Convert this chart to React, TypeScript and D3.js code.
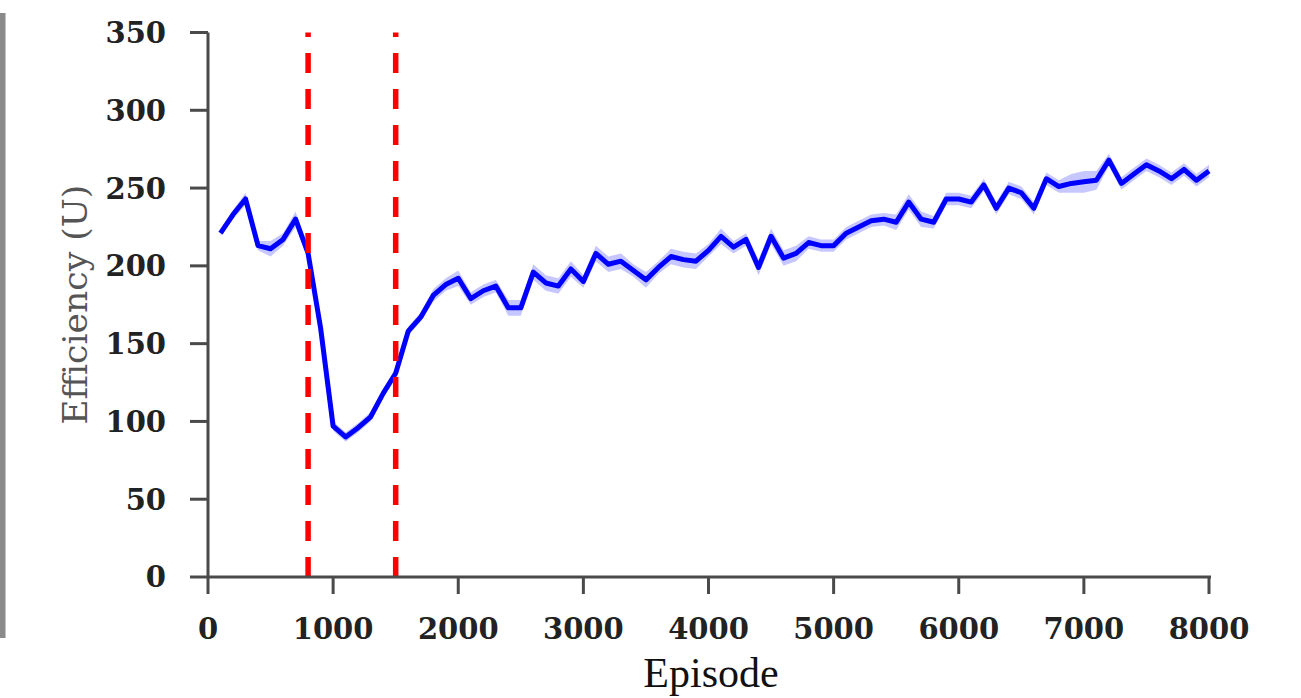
import React from "react";
import * as d3 from "d3";

const episodes: number[] = Array.from({ length: 80 }, (_, i) => (i + 1) * 100);

const efficiency: number[] = [
  221, 233, 243, 213, 211, 217, 230, 208, 160, 97,
  90, 96, 103, 118, 131, 158, 167, 181, 188, 192,
  179, 184, 187, 173, 173, 196, 189, 187, 198, 190,
  208, 201, 203, 197, 191, 199, 206, 204, 203, 210,
  219, 212, 217, 199, 219, 205, 208, 215, 213, 213,
  221, 225, 229, 230, 228, 241, 230, 228, 243, 243,
  241, 252, 237, 250, 247, 237, 256, 251, 253, 254,
  255, 268, 253, 259, 265, 261, 256, 262, 255, 261,
];

const spread: number[] = [
  2, 3, 4, 3, 5, 4, 5, 3, 3, 3,
  3, 3, 3, 3, 3, 3, 3, 4, 4, 5,
  4, 4, 4, 5, 5, 5, 5, 5, 5, 4,
  5, 5, 5, 4, 5, 4, 5, 5, 5, 4,
  5, 4, 4, 5, 5, 5, 5, 4, 4, 4,
  4, 4, 4, 4, 5, 5, 5, 4, 4, 4,
  4, 4, 4, 4, 4, 4, 4, 4, 6, 7,
  6, 4, 4, 4, 4, 4, 4, 4, 4, 4,
];

const xTicks: number[] = [0, 1000, 2000, 3000, 4000, 5000, 6000, 7000, 8000];
const yTicks: number[] = [0, 50, 100, 150, 200, 250, 300, 350];
const markers: number[] = [800, 1500];

export default function App() {
  const W = 1301;
  const H = 698;
  const x = d3.scaleLinear().domain([0, 8000]).range([208, 1209]);
  const y = d3.scaleLinear().domain([0, 350]).range([577, 32.5]);

  const pts = episodes.map((e, i) => ({ e, v: efficiency[i], s: spread[i] }));
  const area = d3
    .area<{ e: number; v: number; s: number }>()
    .x((d) => x(d.e))
    .y0((d) => y(d.v - d.s))
    .y1((d) => y(d.v + d.s));
  const line = d3
    .line<{ e: number; v: number; s: number }>()
    .x((d) => x(d.e))
    .y((d) => y(d.v));

  const axisColor = "#4a4a4a";
  const tickFont = "'DejaVu Serif', serif";

  return (
    <svg
      width={W}
      height={H}
      style={{ position: "absolute", left: 0, top: 0, background: "#fff" }}
    >
      <rect x={0} y={13} width={5.5} height={625} fill="#8a8a8a" />

      <path d={area(pts) || ""} fill="#0000ff" fillOpacity={0.22} stroke="none" />
      <path
        d={line(pts) || ""}
        fill="none"
        stroke="#0000ff"
        strokeWidth={5}
        strokeLinejoin="round"
      />

      {markers.map((m) => (
        <line
          key={m}
          x1={x(m)}
          x2={x(m)}
          y1={y(0)}
          y2={y(350)}
          stroke="#ff0000"
          strokeWidth={5.5}
          strokeDasharray="20,16"
        />
      ))}

      {/* axes */}
      <line x1={x(0)} x2={x(0)} y1={y(350)} y2={y(0)} stroke={axisColor} strokeWidth={3} />
      <line x1={x(0)} x2={x(8000) + 2} y1={y(0)} y2={y(0)} stroke={axisColor} strokeWidth={3} />

      {yTicks.map((t) => (
        <g key={"y" + t}>
          <line x1={x(0) - 18} x2={x(0)} y1={y(t)} y2={y(t)} stroke={axisColor} strokeWidth={3} />
          <text
            x={166}
            y={y(t)}
            dy="0.36em"
            textAnchor="end"
            fontFamily={tickFont}
            fontWeight="bold"
            fontSize={29}
            fill="#222"
          >
            {t}
          </text>
        </g>
      ))}

      {xTicks.map((t) => (
        <g key={"x" + t}>
          <line x1={x(t)} x2={x(t)} y1={y(0)} y2={y(0) + 17} stroke={axisColor} strokeWidth={3} />
          <text
            x={x(t)}
            y={639}
            textAnchor="middle"
            fontFamily={tickFont}
            fontWeight="bold"
            fontSize={29}
            fill="#222"
          >
            {t}
          </text>
        </g>
      ))}

      <text
        transform={`translate(87, ${(y(0) + y(350)) / 2}) rotate(-90)`}
        textAnchor="middle"
        fontFamily="'DejaVu Serif', serif"
        fontSize={34}
        fill="#555"
        textLength={240}
        lengthAdjust="spacingAndGlyphs"
      >
        Efficiency (U)
      </text>

      <text
        x={711}
        y={687}
        textAnchor="middle"
        fontFamily="'Liberation Serif', serif"
        fontSize={42}
        fill="#111"
      >
        Episode
      </text>
    </svg>
  );
}
